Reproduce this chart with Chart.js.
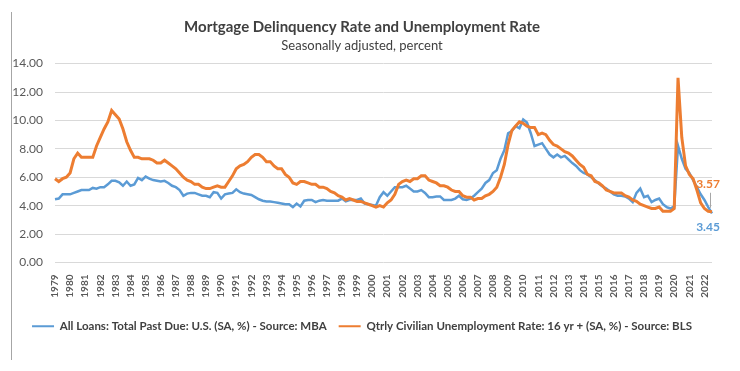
<!DOCTYPE html>
<html>
<head>
<meta charset="utf-8">
<title>Mortgage Delinquency Rate and Unemployment Rate</title>
<script src="https://cdn.jsdelivr.net/npm/chart.js@4.4.1/dist/chart.umd.min.js"></script>
<style>
    html, body { margin: 0; padding: 0; background: #ffffff; }
    #wrap { position: relative; width: 740px; height: 371px; }
    #frame { position: absolute; left: 11px; top: 12px; height: 348px; border-left: 1px solid #a6a6a6; }
</style>
</head>
<body>
<div id="wrap">
    <canvas id="chart"></canvas>
    <div id="frame"></div>
</div>
<script>
// Années affichées sur l'axe (une par an, données trimestrielles)
const yearLabels = ['1979','1980','1981','1982','1983','1984','1985','1986','1987','1988',
    '1989','1990','1991','1992','1993','1994','1995','1996','1997','1998','1999','2000',
    '2001','2002','2003','2004','2005','2006','2007','2008','2009','2010','2011','2012',
    '2013','2014','2015','2016','2017','2018','2019','2020','2021','2022'];
const lastYearQuarters = 3;

// Taux de défaut hypothécaire (MBA), trimestriel
const delinquency = [
    4.45, 4.5, 4.8, 4.8,     // 1979
    4.8, 4.9, 5.0, 5.1,      // 1980
    5.1, 5.1, 5.25, 5.2,
    5.3, 5.3, 5.5, 5.75,
    5.75, 5.65, 5.4, 5.7,
    5.4, 5.5, 5.95, 5.8,
    6.05, 5.9, 5.8, 5.75,    // 1985
    5.7, 5.75, 5.6, 5.4,
    5.3, 5.1, 4.7, 4.85,
    4.9, 4.9, 4.8, 4.7,
    4.7, 4.6, 4.95, 4.9,
    4.5, 4.8, 4.85, 4.9,     // 1990
    5.15, 4.95, 4.85, 4.8,
    4.75, 4.6, 4.45, 4.35,
    4.3, 4.3, 4.25, 4.2,
    4.15, 4.1, 4.1, 3.9,
    4.15, 3.95, 4.35, 4.4,   // 1995
    4.4, 4.25, 4.35, 4.4,
    4.35, 4.35, 4.35, 4.35,
    4.5, 4.3, 4.4, 4.4,
    4.4, 4.5, 4.15, 4.1,
    4.05, 4.0, 4.6, 4.95,    // 2000
    4.7, 5.0, 5.3, 5.3,
    5.3, 5.4, 5.2, 5.0,
    5.0, 5.1, 4.9, 4.6,
    4.6, 4.65, 4.65, 4.4,
    4.4, 4.4, 4.5, 4.7,      // 2005
    4.45, 4.4, 4.5, 4.7,
    4.95, 5.2, 5.6, 5.8,
    6.3, 6.5, 7.3, 7.9,
    9.1, 9.25, 9.6, 9.45,
    10.06, 9.85, 9.1, 8.2,   // 2010
    8.3, 8.4, 8.0, 7.6,
    7.4, 7.6, 7.4, 7.5,
    7.25, 7.0, 6.8, 6.5,
    6.3, 6.2, 6.0, 5.8,
    5.55, 5.35, 5.2, 5.0,    // 2015
    4.8, 4.7, 4.7, 4.65,
    4.5, 4.25, 4.9, 5.2,
    4.6, 4.7, 4.25, 4.4,
    4.5, 4.1, 3.9, 3.8,
    3.95, 8.22, 7.3, 6.6,    // 2020
    6.3, 5.8, 5.3, 4.8,
    4.4, 3.9, 3.45           // 2022
];

// Taux de chômage trimestriel (BLS)
const unemployment = [
    5.9, 5.7, 5.9, 6.0,      // 1979
    6.3, 7.3, 7.7, 7.4,      // 1980
    7.4, 7.4, 7.4, 8.2,
    8.8, 9.4, 9.9, 10.7,
    10.4, 10.1, 9.4, 8.5,
    7.9, 7.4, 7.4, 7.3,
    7.3, 7.3, 7.2, 7.0,      // 1985
    7.0, 7.2, 7.0, 6.8,
    6.6, 6.3, 6.0, 5.8,
    5.7, 5.5, 5.5, 5.3,
    5.2, 5.2, 5.3, 5.4,
    5.3, 5.3, 5.7, 6.1,      // 1990
    6.6, 6.8, 6.9, 7.1,
    7.4, 7.6, 7.6, 7.4,
    7.1, 7.1, 6.8, 6.6,
    6.6, 6.2, 6.0, 5.6,
    5.5, 5.7, 5.7, 5.6,      // 1995
    5.5, 5.5, 5.3, 5.3,
    5.2, 5.0, 4.9, 4.7,
    4.6, 4.4, 4.5, 4.4,
    4.3, 4.3, 4.2, 4.1,
    4.0, 3.9, 4.0, 3.9,      // 2000
    4.2, 4.4, 4.8, 5.5,
    5.7, 5.8, 5.7, 5.9,
    5.9, 6.1, 6.1, 5.8,
    5.7, 5.6, 5.4, 5.4,
    5.3, 5.1, 5.0, 5.0,      // 2005
    4.7, 4.6, 4.6, 4.4,
    4.5, 4.5, 4.7, 4.8,
    5.0, 5.3, 6.0, 6.9,
    8.3, 9.3, 9.6, 9.9,
    9.8, 9.6, 9.5, 9.5,      // 2010
    9.0, 9.1, 9.0, 8.6,
    8.3, 8.2, 8.0, 7.8,
    7.7, 7.5, 7.2, 6.9,
    6.7, 6.2, 6.1, 5.7,
    5.6, 5.4, 5.1, 5.0,      // 2015
    4.9, 4.9, 4.9, 4.7,
    4.6, 4.4, 4.3, 4.1,
    4.0, 3.9, 3.8, 3.8,
    3.9, 3.6, 3.6, 3.6,
    3.8, 13.0, 8.8, 6.8,     // 2020
    6.2, 5.9, 5.1, 4.2,
    3.8, 3.6, 3.57           // 2022
];

const seriesNames = [
    'All Loans: Total Past Due: U.S. (SA, %) - Source: MBA',
    'Qtrly Civilian Unemployment Rate: 16 yr + (SA, %) - Source: BLS'
];
const blue = '#5b9bd5';
const orange = '#ed7d31';
const textColor = '#404040';
const tickColor = '#595959';

// Libellés trimestriels construits à partir des années
const quarters = [];
yearLabels.forEach((y, i) => {
    const n = i === yearLabels.length - 1 ? lastYearQuarters : 4;
    for (let q = 1; q <= n; q++) quarters.push(y + ' T' + q);
});

// Étiquettes de la dernière valeur de chaque série
const endLabels = {
    id: 'endLabels',
    afterDatasetsDraw(chart) {
        const ctx = chart.ctx;
        const pU = chart.getDatasetMeta(1).data[quarters.length - 1];
        const pD = chart.getDatasetMeta(0).data[quarters.length - 1];
        ctx.save();
        ctx.font = 'bold 12px Lato';
        ctx.textAlign = 'center';
        ctx.textBaseline = 'middle';
        ctx.fillStyle = orange;
        ctx.fillText(unemployment[unemployment.length - 1].toFixed(2), pU.x - 4, pU.y - 28);
        ctx.fillStyle = blue;
        ctx.fillText(delinquency[delinquency.length - 1].toFixed(2), pD.x - 4, pD.y + 14);
        ctx.strokeStyle = '#a6a6a6';
        ctx.lineWidth = 1;
        ctx.beginPath();
        ctx.moveTo(pU.x - 1.5, pU.y - 19);
        ctx.lineTo(pU.x - 1.5, pU.y - 4);
        ctx.stroke();
        ctx.restore();
    }
};

new Chart(document.getElementById('chart'), {
    type: 'line',
    data: {
        labels: quarters,
        datasets: [{
            label: seriesNames[0],
            data: delinquency,
            borderColor: blue,
            backgroundColor: blue,
            borderWidth: 2.5,
            pointRadius: 0,
            tension: 0,
            order: 1
        }, {
            label: seriesNames[1],
            data: unemployment,
            borderColor: orange,
            backgroundColor: orange,
            borderWidth: 3,
            pointRadius: 0,
            tension: 0,
            order: 0
        }]
    },
    options: {
        responsive: true,
        maintainAspectRatio: false,
        animation: false,
        layout: { padding: { left: 12, right: 28, top: 8, bottom: 29 } },
        plugins: {
            title: {
                display: true,
                text: 'Mortgage Delinquency Rate and Unemployment Rate',
                color: textColor,
                font: { family: 'Lato', size: 15, weight: 'bold' },
                padding: { top: 10, bottom: 2 }
            },
            subtitle: {
                display: true,
                text: 'Seasonally adjusted, percent',
                color: textColor,
                font: { family: 'Lato', size: 13 },
                padding: { bottom: 10 }
            },
            legend: {
                position: 'bottom',
                labels: {
                    color: textColor,
                    font: { family: 'Lato', size: 11.5, weight: 'bold' },
                    boxWidth: 22,
                    boxHeight: 2,
                    padding: 12,
                    sort: (a, b) => a.datasetIndex - b.datasetIndex,
                    generateLabels(chart) {
                        return Chart.defaults.plugins.legend.labels.generateLabels(chart)
                            .map(item => Object.assign(item, { lineWidth: 0 }));
                    }
                }
            },
            tooltip: { enabled: false }
        },
        scales: {
            x: {
                type: 'category',
                offset: false,
                grid: { display: false },
                border: { display: false },
                ticks: {
                    autoSkip: false,
                    minRotation: 90,
                    maxRotation: 90,
                    padding: 4,
                    color: tickColor,
                    font: { family: 'Lato', size: 10, weight: 'bold' },
                    callback: function(value, index) {
                        return index % 4 === 0 ? yearLabels[index / 4] : null;
                    }
                },
                afterFit: scale => { scale.height = 46; }
            },
            y: {
                min: 0,
                max: 14,
                grid: { color: '#d9d9d9', drawTicks: false },
                border: { display: false },
                ticks: {
                    stepSize: 2,
                    padding: 12,
                    color: tickColor,
                    font: { family: 'Lato', size: 12 },
                    callback: v => v.toFixed(2)
                },
                afterFit: scale => { scale.width = 43; }
            }
        }
    },
    plugins: [endLabels]
});
</script>
</body>
</html>
